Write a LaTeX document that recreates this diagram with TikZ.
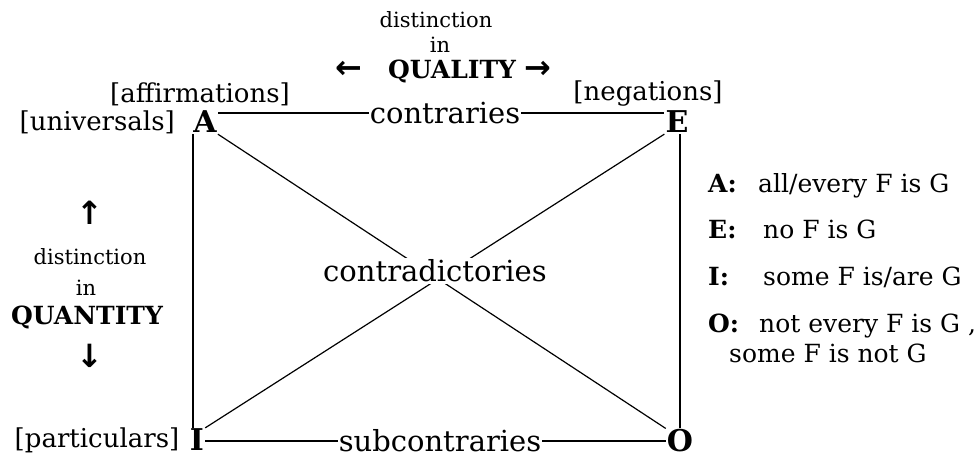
\documentclass[tikz,border=0pt]{standalone}
\usepackage{fontspec}
\setmainfont{DejaVu Serif}
\newfontfamily\arrowfont{DejaVu Sans}
\begin{document}
\begin{tikzpicture}[x=1pt,y=-1pt,
  every node/.style={inner sep=1pt},
  lab/.style={font=\fontsize{26}{30}\selectfont},
  edgelab/.style={font=\fontsize{29}{32}\selectfont},
  small/.style={font=\fontsize{21}{24}\selectfont},
  corner/.style={font=\bfseries\fontsize{30}{32}\selectfont, inner sep=1pt},
  big/.style={font=\bfseries\fontsize{25}{28}\selectfont},
  leg/.style={font=\fontsize{25}{28}\selectfont, anchor=base west},
  legl/.style={font=\bfseries\fontsize{25}{28}\selectfont, anchor=base west},
  arr/.style={font=\arrowfont\bfseries\fontsize{32}{34}\selectfont},
  conn/.style={line width=1.2pt}]
\useasboundingbox (0,0) rectangle (976,460);
% corners
\node[corner] (A) at (205,122) {A};
\node[corner] (E) at (677,122) {E};
\node[corner] (I) at (197,440) {I};
\node[corner] (O) at (680,441) {O};
% edge labels
\node[edgelab] (con) at (445,113) {contraries};
\node[edgelab] (sub) at (440,441) {subcontraries};
% connectors
\draw[conn] (con.west) -- (con.west -| A.east);
\draw[conn] (con.east) -- (con.east -| E.west);
\draw[conn] (sub.west) -- (sub.west -| I.east);
\draw[conn] (sub.east) -- (sub.east -| O.west);
\draw[conn] ([xshift=-4pt]I.north) -- ([xshift=-4pt]I.north |- A.south);
\draw[conn] (O.north) -- (O.north |- E.south);
\draw[conn] (A.south east) -- (O.north west);
\draw[conn] (E.south west) -- (I.north east);
\node[edgelab, fill=white, inner sep=2pt] (contra) at (435,271) {contradictories};
% side labels
\node[lab, anchor=east] (univ) at (176,122) {[universals]};
\node[lab] (aff) at (200,94) {[affirmations]};
\node[lab] (neg) at (648,94) {[negations]};
\node[lab] (part) at (97,440) {[particulars]};
% quality
\node[small] (dq) at (436,20) {distinction};
\node[small] (iq) at (440,45) {in};
\node[arr] (la) at (349,70) {←};
\node[big] (qual) at (452,71) {QUALITY};
\node[arr] (ra) at (538,70) {→};
% quantity
\node[arr] (ua) at (90,213) {↑};
\node[small] (dn) at (90,257) {distinction};
\node[small] (in) at (86,288) {in};
\node[big] (quan) at (87,317) {QUANTITY};
\node[arr] (da) at (90,356) {↓};
% legend
\node[legl] (la1) at (707,192) {A:};
\node[leg] (lt1) at (757,192) {all/every F is G};
\node[legl] (la2) at (707,238) {E:};
\node[leg] (lt2) at (762,238) {no F is G};
\node[legl] (la3) at (707,285) {I:};
\node[leg] (lt3) at (762,285) {some F is/are G};
\node[legl] (la4) at (707,332) {O:};
\node[leg] (lt4) at (758,332) {not every F is G ,};
\node[leg] (lt5) at (728,362) {some F is not G};
\end{tikzpicture}
\end{document}
